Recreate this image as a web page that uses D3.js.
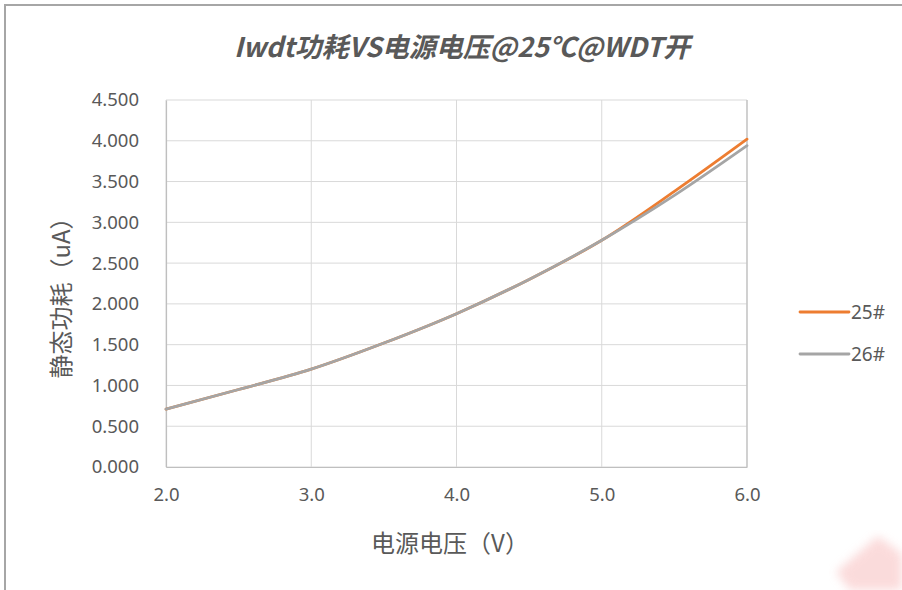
<!DOCTYPE html>
<html>
<head>
<meta charset="utf-8">
<script src="https://cdn.jsdelivr.net/npm/d3@7"></script>
<style>
  body { margin: 0; background: #fff; }
  text { font-family: "Noto Sans CJK SC", "Noto Sans", sans-serif; fill: #595959; }
</style>
</head>
<body>
<div id="chart"></div>
<script>
// supply voltage (V)
var volts = [2.0, 2.5, 3.0, 3.5, 4.0, 4.5, 5.0, 5.5, 6.0];
// quiescent current (uA) per sample
var s25 = [0.71, 0.95, 1.20, 1.52, 1.88, 2.30, 2.78, 3.38, 4.02];
var s26 = [0.71, 0.95, 1.20, 1.52, 1.88, 2.30, 2.78, 3.33, 3.94];
var seriesNames = ['25#', '26#'];
var colors = ['#ED7D31', '#A5A5A5'];
var xTicks = [2, 3, 4, 5, 6];
var yTicks = [0, 0.5, 1, 1.5, 2, 2.5, 3, 3.5, 4, 4.5];

var W = 902, H = 590;
var margin = { top: 100, right: 155, bottom: 123, left: 166 },
    width = W - margin.left - margin.right,
    height = H - margin.top - margin.bottom;

var svg = d3.select('#chart').append('svg')
    .attr('width', W)
    .attr('height', H);

// outer frame (top + left only, like the screenshot crop)
svg.append('path')
    .attr('d', `M5,${H} L5,5 L${W},5`)
    .attr('fill', 'none')
    .attr('stroke', '#a6a6a6')
    .attr('stroke-width', 2);

// faint watermark in the corner
svg.append('defs').append('filter').attr('id', 'blur')
    .append('feGaussianBlur').attr('stdDeviation', 5);
svg.append('path')
    .attr('d', 'M836,572 L878,536 L902,554 L902,590 L850,590 Z')
    .attr('fill', '#f9cccc')
    .attr('opacity', 0.7)
    .attr('filter', 'url(#blur)');

var x = d3.scaleLinear().domain([2, 6]).range([0, width]);
var y = d3.scaleLinear().domain([0, 4.5]).range([height, 0]);

var g = svg.append('g').attr('transform', `translate(${margin.left},${margin.top})`);

// gridlines
g.selectAll('.hgrid').data(yTicks).enter().append('line')
    .attr('x1', 0).attr('x2', width)
    .attr('y1', d => y(d)).attr('y2', d => y(d))
    .attr('stroke', '#d9d9d9').attr('stroke-width', 1);
g.selectAll('.vgrid').data(xTicks).enter().append('line')
    .attr('y1', 0).attr('y2', height)
    .attr('x1', d => x(d)).attr('x2', d => x(d))
    .attr('stroke', '#d9d9d9').attr('stroke-width', 1);

// axes
var xAxis = g.append('g')
    .attr('transform', `translate(0,${height})`)
    .call(d3.axisBottom(x).tickValues(xTicks).tickFormat(d3.format('.1f')).tickSize(0).tickPadding(21));
var yAxis = g.append('g')
    .call(d3.axisLeft(y).tickValues(yTicks).tickFormat(d3.format('.3f')).tickSize(0).tickPadding(27));
[xAxis, yAxis].forEach(function (a) {
    a.select('.domain').attr('stroke', '#bfbfbf').attr('stroke-width', 1.2);
    a.selectAll('text').style('font-size', '18.5px').attr('fill', '#595959')
        .style('font-family', '"Noto Sans", "Open Sans", sans-serif');
});
// right edge of plot frame
g.append('line')
    .attr('x1', width).attr('x2', width).attr('y1', 0).attr('y2', height)
    .attr('stroke', '#bfbfbf').attr('stroke-width', 1.2);

// series
var series = [s25, s26];
var line = d3.line()
    .x((d, i) => x(volts[i]))
    .y(d => y(d))
    .curve(d3.curveMonotoneX);
g.selectAll('.series').data(series).enter().append('path')
    .attr('d', d => line(d))
    .attr('fill', 'none')
    .attr('stroke', (d, i) => colors[i])
    .attr('stroke-width', 2.8)
    .attr('stroke-linecap', 'round');

// title
svg.append('text')
    .attr('x', 462).attr('y', 57)
    .attr('text-anchor', 'middle')
    .style('font-size', '27px')
    .style('font-weight', 'bold')
    .style('font-style', 'italic')
    .text('Iwdt功耗VS电源电压@25℃@WDT开');

// axis titles
svg.append('text')
    .attr('x', 450).attr('y', 552)
    .attr('text-anchor', 'middle')
    .style('font-size', '24px')
    .text('电源电压（V）');
svg.append('text')
    .attr('transform', 'translate(70,292) rotate(-90)')
    .attr('text-anchor', 'middle')
    .style('font-size', '24px')
    .text('静态功耗（uA）');

// legend
var leg = svg.selectAll('.leg').data(seriesNames).enter().append('g')
    .attr('transform', (d, i) => `translate(800,${312 + i * 42})`);
leg.append('line')
    .attr('x1', 0).attr('x2', 49).attr('y1', 0).attr('y2', 0)
    .attr('stroke', (d, i) => colors[i])
    .attr('stroke-width', 2.8)
    .attr('stroke-linecap', 'round');
leg.append('text')
    .attr('x', 51).attr('y', 7)
    .style('font-size', '19px')
    .style('font-family', '"Noto Sans", sans-serif')
    .text(d => d);
</script>
</body>
</html>
